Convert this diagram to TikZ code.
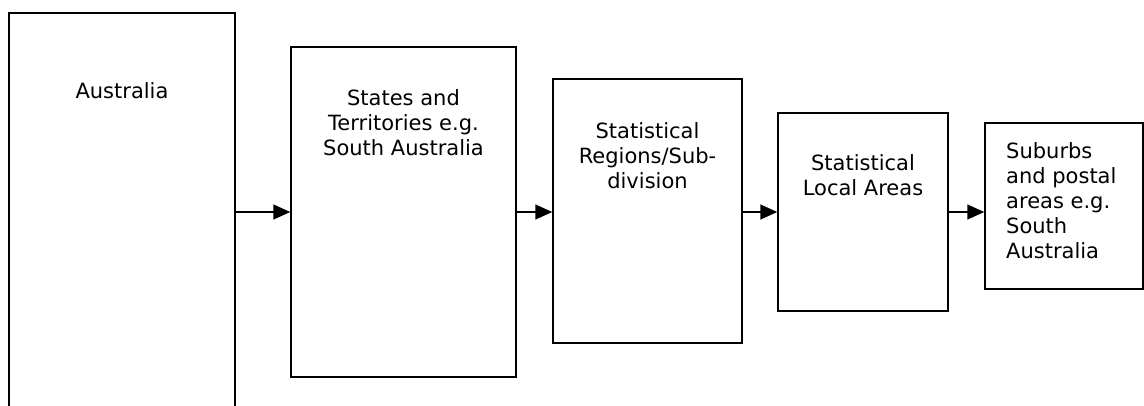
\documentclass[tikz,border=0pt]{standalone}
\usepackage{fontspec}
\setmainfont{DejaVu Sans}
\usetikzlibrary{arrows.meta,positioning}

\begin{document}
\begin{tikzpicture}[x=1pt, y=-1pt]
    % Define styles
    \tikzset{
        levelbox/.style={draw, line width=1.5pt, inner sep=0pt, minimum width=#1},
        leveltext/.style={anchor=north, inner sep=0pt, align=center, font=\fontsize{21}{25}\selectfont},
        flowarrow/.style={-{Triangle[length=17pt, width=15pt]}, line width=1.5pt}
    }
    \path[use as bounding box, clip] (0,0) rectangle (1144,405);

    % Levels of geography
    \node[levelbox=226pt, minimum height=416pt] (australia) at (122,221) {};
    \node[levelbox=225pt, minimum height=330pt] (states) at (403.5,212) {};
    \node[levelbox=189pt, minimum height=264pt] (regions) at (647.5,211) {};
    \node[levelbox=170pt, minimum height=198pt] (local) at (863,212) {};
    \node[levelbox=158pt, minimum height=166pt] (suburbs) at (1064,206) {};

    % Texts
    \node[leveltext] (australiatext) at (122,82) {Australia};
    \node[leveltext] (statestext) at (403.5,89) {States and\\Territories e.g.\\South Australia};
    \node[leveltext] (regionstext) at (647.5,122) {Statistical\\Regions/Sub-\\division};
    \node[leveltext] (localtext) at (863,154) {Statistical\\Local Areas};
    \node[leveltext, anchor=north west, align=left] (suburbstext) at (1006,142) {Suburbs\\and postal\\areas e.g.\\South\\Australia};

    % Arrows
    \draw[flowarrow] (australia.east |- states.west) -- (states.west);
    \draw[flowarrow] (states.east) -- (states.east -| regions.west);
    \draw[flowarrow] (regions.east |- local.west) -- (local.west);
    \draw[flowarrow] (local.east) -- (local.east -| suburbs.west);

\end{tikzpicture}
\end{document}
